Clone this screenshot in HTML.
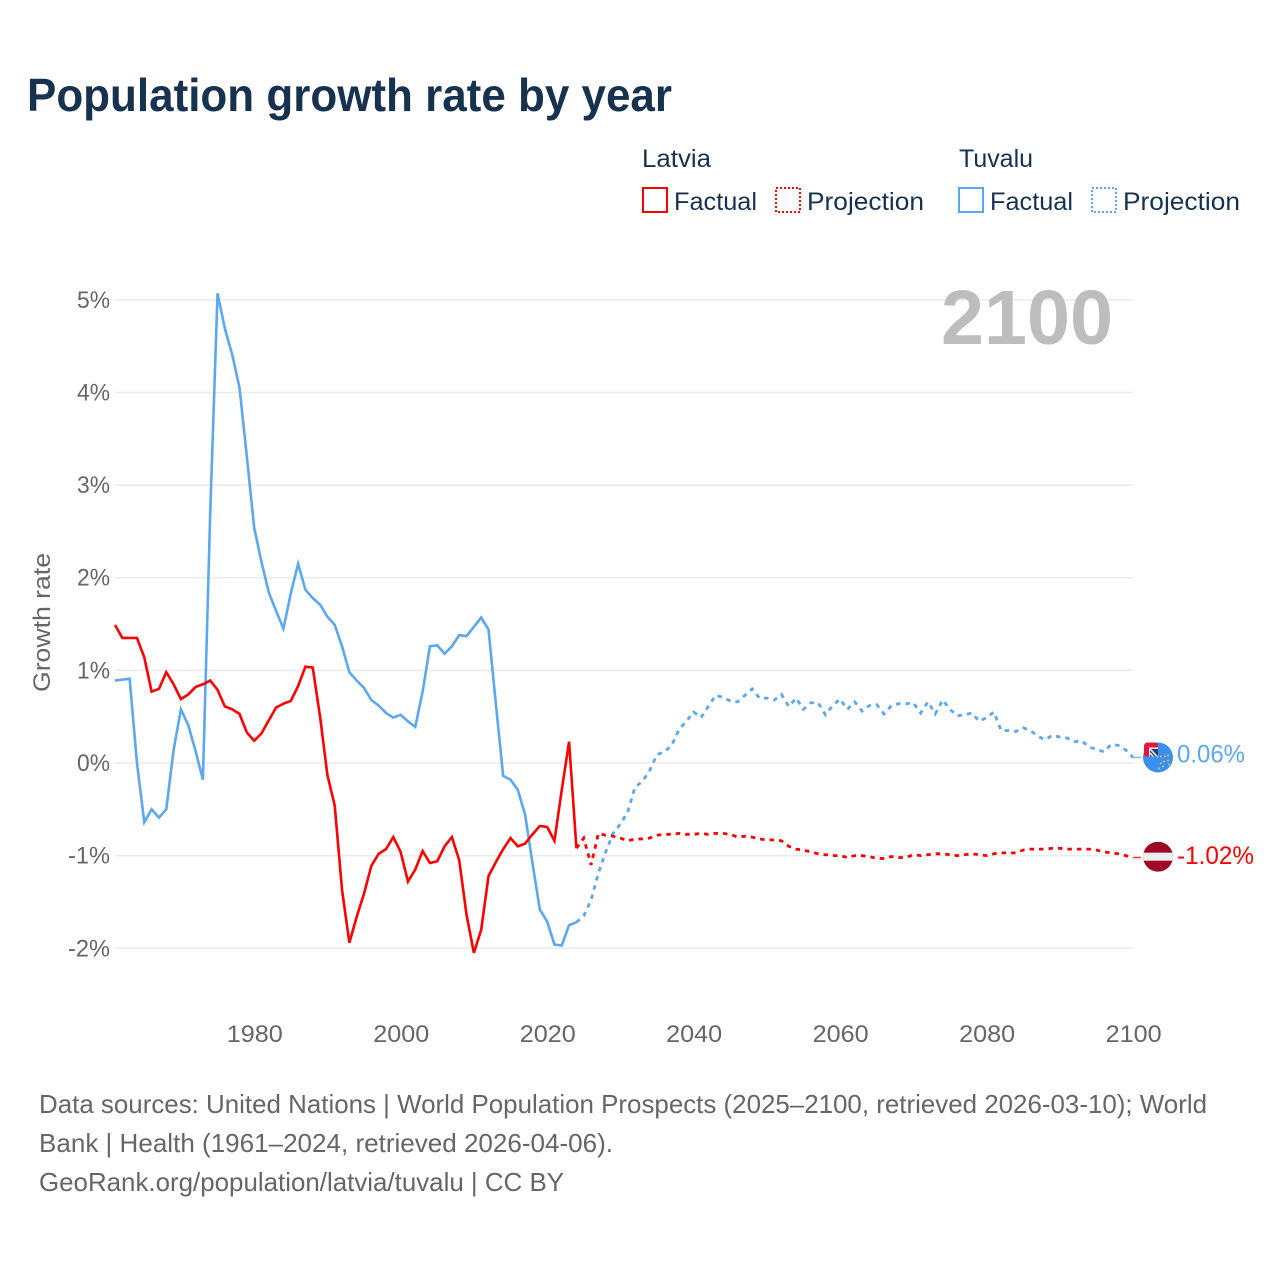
<!DOCTYPE html>
<html lang="en">
<head>
<meta charset="utf-8">
<title>Population growth rate by year</title>
<style>
html,body{margin:0;padding:0;background:#fff;width:1280px;height:1280px;overflow:hidden}
svg{display:block}
text{font-family:"Liberation Sans",sans-serif}
</style>
</head>
<body>
<svg id="chart" xmlns="http://www.w3.org/2000/svg" width="1280" height="1280" viewBox="0 0 1280 1280">
  <rect width="1280" height="1280" fill="#fff"/>
  <text x="27" y="111" font-size="46" font-weight="bold" fill="#17324f" textLength="645" lengthAdjust="spacingAndGlyphs">Population growth rate by year</text>

  <g font-size="25" fill="#17324f">
    <text x="642" y="167" textLength="69" lengthAdjust="spacingAndGlyphs">Latvia</text>
    <rect x="643" y="188" width="24" height="24" fill="none" stroke="#ff0000" stroke-width="2"/>
    <text x="674" y="210" textLength="83" lengthAdjust="spacingAndGlyphs">Factual</text>
    <rect x="776" y="188" width="24" height="24" fill="none" stroke="#ff0000" stroke-width="2" stroke-dasharray="2 2"/>
    <text x="807" y="210" textLength="117" lengthAdjust="spacingAndGlyphs">Projection</text>
    <text x="959" y="167" textLength="74" lengthAdjust="spacingAndGlyphs">Tuvalu</text>
    <rect x="959" y="188" width="24" height="24" fill="none" stroke="#5ca8f0" stroke-width="2"/>
    <text x="990" y="210" textLength="83" lengthAdjust="spacingAndGlyphs">Factual</text>
    <rect x="1092" y="188" width="24" height="24" fill="none" stroke="#5ca8f0" stroke-width="2" stroke-dasharray="2 2"/>
    <text x="1123" y="210" textLength="117" lengthAdjust="spacingAndGlyphs">Projection</text>
  </g>

  <g id="grid"></g>
  <g id="yticks"></g>
  <g id="xticks"></g>
  <text transform="translate(50,692) rotate(-90)" x="0" y="0" font-size="24" fill="#666" textLength="139" lengthAdjust="spacingAndGlyphs">Growth rate</text>
  <text id="year-label" x="941" y="344" font-size="77" font-weight="bold" fill="#bdbdbd" textLength="172" lengthAdjust="spacingAndGlyphs">2100</text>
  <g id="series"></g>

  <g id="flag-tuvalu">
    <circle cx="0" cy="0" r="15" fill="#3a8ff0"/>
    <rect x="-14" y="-15" width="14" height="15" rx="3.5" fill="#e3173a"/>
    <rect x="-9" y="-10" width="9" height="10" fill="#f2f2f2"/>
    <rect x="-8" y="-8.5" width="8" height="8.5" fill="#2f3f6b"/>
    <path d="M-8 -8.5L0 0M-8 -4.5L-4 0" stroke="#e9e9ee" stroke-width="1.6" fill="none"/>
    <rect x="-14" y="-1" width="14" height="1" fill="#3a8ff0"/>
    <g fill="#f1c84a">
      <circle cx="3" cy="-1" r="0.9"/><circle cx="7" cy="-1" r="0.9"/><circle cx="10" cy="-2" r="0.9"/>
      <circle cx="10" cy="3" r="0.9"/><circle cx="6" cy="4" r="0.9"/><circle cx="3" cy="6" r="0.9"/>
      <circle cx="11" cy="7" r="0.9"/><circle cx="5" cy="9" r="0.9"/><circle cx="1" cy="11" r="0.9"/>
    </g>
  </g>
  <g id="flag-latvia">
    <clipPath id="clip-lv"><circle cx="0" cy="0" r="15"/></clipPath>
    <g clip-path="url(#clip-lv)">
      <rect x="-15" y="-15" width="30" height="30" fill="#9e0a26"/>
      <rect x="-15" y="-4" width="30" height="8" fill="#eeeeee"/>
    </g>
  </g>
  <text id="label-tuvalu" x="1177" font-size="25" fill="#5ca8f0" textLength="68" lengthAdjust="spacingAndGlyphs"></text>
  <text id="label-latvia" x="1177" font-size="25" fill="#ff0000" textLength="77" lengthAdjust="spacingAndGlyphs"></text>

  <g font-size="26" fill="#666">
    <text x="39" y="1113" textLength="1168" lengthAdjust="spacingAndGlyphs">Data sources: United Nations | World Population Prospects (2025–2100, retrieved 2026-03-10); World</text>
    <text x="39" y="1152" textLength="574" lengthAdjust="spacingAndGlyphs">Bank | Health (1961–2024, retrieved 2026-04-06).</text>
    <text x="39" y="1191" textLength="525" lengthAdjust="spacingAndGlyphs">GeoRank.org/population/latvia/tuvalu | CC BY</text>
  </g>
</svg>
<script>
const firstFactualYear = 1961;
const firstProjectionYear = 2024;
const xTickYears = [1980, 2000, 2020, 2040, 2060, 2080, 2100];
const yTickValues = [5, 4, 3, 2, 1, 0, -1, -2];
const yTickLabels = ["5%", "4%", "3%", "2%", "1%", "0%", "-1%", "-2%"];

const latviaFactual = [1.49,1.35,1.35,1.35,1.14,0.77,0.80,0.98,0.85,0.69,0.74,0.82,0.85,0.89,0.79,0.61,0.58,0.53,0.33,0.24,0.32,0.46,0.60,0.64,0.67,0.83,1.04,1.03,0.50,-0.13,-0.46,-1.37,-1.94,-1.66,-1.41,-1.11,-0.98,-0.93,-0.80,-0.96,-1.28,-1.15,-0.95,-1.08,-1.06,-0.90,-0.80,-1.05,-1.64,-2.05,-1.80,-1.22,-1.07,-0.93,-0.81,-0.90,-0.87,-0.77,-0.68,-0.69,-0.84,-0.29,0.23,-0.92];
const latviaProjection = [-0.92,-0.81,-1.10,-0.76,-0.78,-0.79,-0.81,-0.84,-0.82,-0.82,-0.81,-0.78,-0.77,-0.77,-0.76,-0.77,-0.77,-0.76,-0.77,-0.76,-0.76,-0.77,-0.80,-0.79,-0.80,-0.82,-0.83,-0.83,-0.84,-0.90,-0.93,-0.94,-0.96,-0.98,-0.99,-1.00,-1.00,-1.02,-1.00,-1.00,-1.01,-1.03,-1.03,-1.01,-1.02,-1.02,-0.99,-1.00,-0.99,-0.98,-0.98,-0.99,-1.00,-0.99,-0.98,-0.99,-1.00,-0.98,-0.97,-0.97,-0.97,-0.94,-0.93,-0.93,-0.93,-0.92,-0.92,-0.93,-0.93,-0.93,-0.93,-0.94,-0.96,-0.97,-0.98,-1.00,-1.02];
const tuvaluFactual = [0.89,0.90,0.91,0.00,-0.64,-0.50,-0.59,-0.50,0.14,0.58,0.41,0.13,-0.18,2.70,5.07,4.69,4.41,4.05,3.31,2.54,2.17,1.84,1.64,1.45,1.83,2.15,1.87,1.78,1.71,1.58,1.49,1.26,0.98,0.89,0.81,0.68,0.62,0.54,0.49,0.52,0.45,0.39,0.77,1.26,1.27,1.18,1.26,1.38,1.37,1.47,1.57,1.44,0.64,-0.14,-0.18,-0.29,-0.56,-1.08,-1.58,-1.71,-1.96,-1.97,-1.75,-1.72];
const tuvaluProjection = [-1.72,-1.65,-1.48,-1.19,-0.96,-0.76,-0.66,-0.53,-0.26,-0.20,-0.08,0.09,0.12,0.19,0.36,0.45,0.55,0.49,0.61,0.73,0.71,0.67,0.66,0.73,0.80,0.70,0.70,0.68,0.74,0.61,0.70,0.58,0.65,0.65,0.52,0.62,0.69,0.58,0.66,0.56,0.62,0.63,0.53,0.62,0.64,0.64,0.65,0.54,0.66,0.53,0.68,0.58,0.51,0.52,0.54,0.45,0.49,0.55,0.35,0.35,0.34,0.38,0.35,0.29,0.25,0.30,0.28,0.27,0.23,0.24,0.17,0.15,0.12,0.20,0.19,0.14,0.06];

const SVGNS = "http://www.w3.org/2000/svg";
const xAt = function (year) { return 115 + (year - 1961) * 7.324; };
const yAt = function (value) { return 763 - value * 92.64; };

function make(tag, parent, attrs, content) {
  const el = document.createElementNS(SVGNS, tag);
  Object.keys(attrs).forEach(function (k) { el.setAttribute(k, attrs[k]); });
  if (content !== undefined) el.textContent = content;
  parent.appendChild(el);
  return el;
}

const grid = document.getElementById("grid");
const yticks = document.getElementById("yticks");
const xticks = document.getElementById("xticks");
const series = document.getElementById("series");

yTickValues.forEach(function (v, i) {
  const line = make("line", grid, {x1: 115, x2: 1133, y1: yAt(v), y2: yAt(v), stroke: "#ebebeb", "stroke-width": 1.5});
  
  
  const label = yTickLabels[i];
  const w = label.charAt(0) === "-" ? 42 : 33;
  const t = make("text", yticks, {x: 110 - w, y: yAt(v) + 8, "font-size": 24, fill: "#666", textLength: w, lengthAdjust: "spacingAndGlyphs"}, label);
  
  
});

xTickYears.forEach(function (yr) {
  const t = make("text", xticks, {x: xAt(yr) - 27.4, y: 1042, "font-size": 24, fill: "#666", textLength: 56, lengthAdjust: "spacingAndGlyphs"}, String(yr));
  
  
});

function pathFrom(values, startYear) {
  return values.map(function (v, i) {
    return (i ? "L" : "M") + xAt(startYear + i).toFixed(2) + " " + yAt(v).toFixed(2);
  }).join("");
}

const tvFact = make("path", series, {d: pathFrom(tuvaluFactual, firstFactualYear), fill: "none", stroke: "#5ca8f0", "stroke-width": 2.6, "stroke-linejoin": "miter"});


const tvProj = make("path", series, {d: pathFrom(tuvaluProjection, firstProjectionYear), fill: "none", stroke: "#5ca8f0", "stroke-width": 2.8, "stroke-dasharray": "4.5 5"});


const lvFact = make("path", series, {d: pathFrom(latviaFactual, firstFactualYear), fill: "none", stroke: "#ff0000", "stroke-width": 2.6, "stroke-linejoin": "miter"});


const lvProj = make("path", series, {d: pathFrom(latviaProjection, firstProjectionYear), fill: "none", stroke: "#ff0000", "stroke-width": 2.8, "stroke-dasharray": "4.5 5"});



const tvEnd = tuvaluProjection[tuvaluProjection.length - 1];
const lvEnd = latviaProjection[latviaProjection.length - 1];
const tvConn = make("line", series, {x1: xAt(2100), x2: xAt(2100) + 8, y1: yAt(tvEnd), y2: yAt(tvEnd), stroke: "#5ca8f0", "stroke-width": 1.5, opacity: 0.8});


const lvConn = make("line", series, {x1: xAt(2100), x2: xAt(2100) + 8, y1: yAt(lvEnd), y2: yAt(lvEnd), stroke: "#ff0000", "stroke-width": 1.5, opacity: 0.8});



document.getElementById("flag-tuvalu").setAttribute("transform", "translate(1158," + yAt(tvEnd).toFixed(2) + ")");
document.getElementById("flag-latvia").setAttribute("transform", "translate(1158," + (yAt(lvEnd) - 0.8).toFixed(2) + ")");
const labTv = document.getElementById("label-tuvalu");
labTv.textContent = tvEnd.toFixed(2) + "%";
labTv.setAttribute("y", (yAt(tvEnd) + 5).toFixed(2));
const labLv = document.getElementById("label-latvia");
labLv.textContent = lvEnd.toFixed(2) + "%";
labLv.setAttribute("y", (yAt(lvEnd) + 6.5).toFixed(2));
</script>
</body>
</html>
